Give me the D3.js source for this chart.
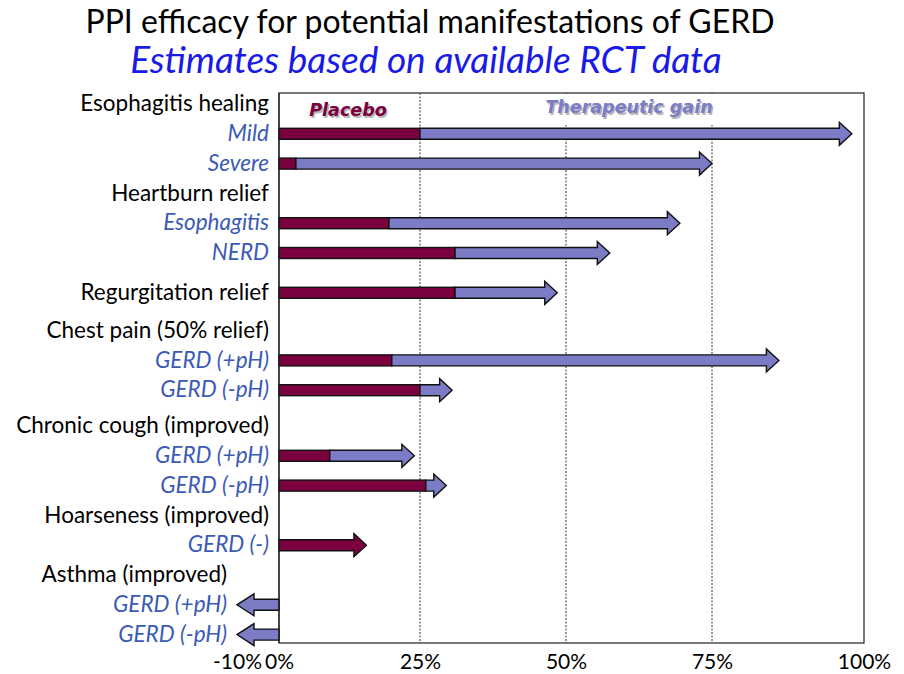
<!DOCTYPE html>
<html>
<head>
<meta charset="utf-8">
<script src="https://cdn.jsdelivr.net/npm/d3@7/dist/d3.min.js"></script>
<style>
  html, body { margin: 0; padding: 0; background: #fff; }
  svg { display: block; font-family: Lato, "Noto Sans", sans-serif; }
</style>
</head>
<body>
<svg id="chart" width="904" height="674"></svg>
<script>
// ---------------- data ----------------
const titleText = "PPI efficacy for potential manifestations of GERD";
const subtitleText = "Estimates based on available RCT data";
const seriesNames = ["Placebo", "Therapeutic gain"];
const rowLabels = [
  "Esophagitis healing", "Mild", "Severe",
  "Heartburn relief", "Esophagitis", "NERD",
  "Regurgitation relief",
  "Chest pain (50% relief)", "GERD (+pH)", "GERD (-pH)",
  "Chronic cough (improved)", "GERD (+pH)", "GERD (-pH)",
  "Hoarseness (improved)", "GERD (-)",
  "Asthma (improved)", "GERD (+pH)", "GERD (-pH)"
];
const rowKinds = [
  "group", "sub", "sub",
  "group", "sub", "sub",
  "group",
  "group", "sub", "sub",
  "group", "sub", "sub",
  "group", "sub",
  "group", "sub", "sub"
];
// placebo response (%) and therapeutic gain (%) per row; null = no bar
const placeboValues = [null, 25, 3, null, 19.5, 31, 31, null, 20, 25, null, 9, 26, null, 15.5, null, 0, 0];
const gainValues    = [null, 73, 72, null, 50, 26.5, 17.5, null, 66, 5.5, null, 15, 3.5, null, 0, null, -10, -10];
const tickValues = [-10, 0, 25, 50, 75, 100];
const tickLabels = ["-10%", "0%", "25%", "50%", "75%", "100%"];
const gridValues = [25, 50, 75];

// ---------------- layout / style ----------------
const colPlacebo = "#7a003e";
const colGain = "#7b7bc6";
const colSub = "#3b5bb5";
const frameTop = 93, frameBottom = 643;
const rowStart = 103, rowStep = 29.8;
const extraGap = [0,0,0,0,0,0,10,8,0,0,6,0,0,0,0,0,0,0];
const mainFont = "Lato, 'Noto Sans', sans-serif";
const legendFont = "'DejaVu Sans', Verdana, sans-serif";

const svg = d3.select("#chart");

// x scale (piecewise, as drawn in the original)
const x = d3.scaleLinear().domain(tickValues).range([237, 279, 420, 566, 712, 864]);

// y positions of rows
let acc = 0;
const rowY = rowLabels.map((d, i) => { acc += extraGap[i]; return rowStart + i * rowStep + acc; });

// groups: each group header starts a group; find min value per group
const groupId = [];
let g = -1;
rowKinds.forEach((k, i) => { if (k === "group") g++; groupId.push(g); });
const groupMin = {};
rowLabels.forEach((d, i) => {
  const v = gainValues[i] == null ? 0 : Math.min(0, gainValues[i]);
  groupMin[groupId[i]] = Math.min(groupMin[groupId[i]] ?? 0, v);
});

// title
svg.append("text").attr("x", 430).attr("y", 33).attr("text-anchor", "middle")
  .style("font-family", mainFont)
  .attr("font-size", 32).attr("fill", "#000").text(titleText);
svg.append("text").attr("x", 426).attr("y", 73).attr("text-anchor", "middle")
  .style("font-family", mainFont)
  .attr("font-size", 37).attr("font-style", "italic").attr("fill", "#1a1ae6").text(subtitleText);

// frame
svg.append("rect").attr("x", x(0)).attr("y", frameTop)
  .attr("width", x(100) - x(0)).attr("height", frameBottom - frameTop)
  .attr("fill", "none").attr("stroke", "#222").attr("stroke-width", 1.2);

// grid lines
svg.append("g").selectAll("line").data(gridValues).join("line")
  .attr("x1", d => x(d)).attr("x2", d => x(d))
  .attr("y1", frameTop).attr("y2", frameBottom)
  .attr("stroke", "#333").attr("stroke-width", 1).attr("stroke-dasharray", "2,1.5");

// series labels
function shadowText(txt, cx, cy, color) {
  const gg = svg.append("g");
  [[1.5, "#b8b8b8"], [0, color]].forEach(([off, c]) => {
    gg.append("text").attr("x", cx + off).attr("y", cy + off).attr("text-anchor", "middle")
      .style("font-family", legendFont)
      .style("font-size", "17.5px").style("font-weight", "bold").style("font-style", "italic")
      .attr("fill", c).text(txt);
  });
  return gg;
}
shadowText(seriesNames[0], 348, 116, colPlacebo);
// white box behind therapeutic gain label (covers grid lines as in original)
svg.append("rect").attr("x", 541).attr("y", frameTop + 1).attr("width", 178).attr("height", 31).attr("fill", "#fff");
shadowText(seriesNames[1], 629, 113, colGain);

// arrow path helper
function arrowPath(x0, x1, yc, bh, hh, hl) {
  const dir = x1 >= x0 ? 1 : -1;
  const xb = x1 - dir * hl;
  return `M${x0},${yc - bh}L${xb},${yc - bh}L${xb},${yc - hh}L${x1},${yc}L${xb},${yc + hh}L${xb},${yc + bh}L${x0},${yc + bh}Z`;
}

// bars
const barsG = svg.append("g");
const bh = 5.5, hh = 11.5;
rowLabels.forEach((lab, i) => {
  const p = placeboValues[i], gv = gainValues[i];
  if (p == null) return;
  const yc = rowY[i] + 1;
  if (gv > 0) {
    if (p > 0) {
      barsG.append("rect").attr("x", x(0)).attr("y", yc - bh)
        .attr("width", x(p) - x(0)).attr("height", 2 * bh)
        .attr("fill", colPlacebo).attr("stroke", "#111").attr("stroke-width", 1.4);
    }
    barsG.append("path").attr("d", arrowPath(x(p), x(p + gv), yc, bh, hh, 12.5))
      .attr("fill", colGain).attr("stroke", "#111").attr("stroke-width", 1.4)
      .attr("stroke-linejoin", "miter");
  } else if (gv === 0) {
    barsG.append("path").attr("d", arrowPath(x(0), x(p), yc, bh, hh, 12.5))
      .attr("fill", colPlacebo).attr("stroke", "#111").attr("stroke-width", 1.4);
  } else {
    barsG.append("path").attr("d", arrowPath(x(0), x(p + gv), yc, bh, hh - 0.5, 17))
      .attr("fill", colGain).attr("stroke", "#111").attr("stroke-width", 1.4);
  }
});
// redraw frame left edge on top
svg.append("line").attr("x1", x(0)).attr("x2", x(0)).attr("y1", frameTop).attr("y2", frameBottom)
  .attr("stroke", "#222").attr("stroke-width", 1.2);

// row labels
svg.append("g").selectAll("text").data(rowLabels).join("text")
  .attr("x", (d, i) => x(groupMin[groupId[i]]) - 10)
  .attr("y", (d, i) => rowY[i])
  .attr("dy", "0.36em")
  .attr("text-anchor", "end")
  .style("font-family", mainFont)
  .attr("font-size", 22.5)
  .attr("font-style", (d, i) => rowKinds[i] === "sub" ? "italic" : "normal")
  .attr("fill", (d, i) => rowKinds[i] === "sub" ? colSub : "#000")
  .text(d => d);

// x axis
const axis = d3.axisBottom(x).tickValues(tickValues)
  .tickFormat((d, i) => tickLabels[i]).tickSize(0).tickPadding(0);
const axG = svg.append("g").attr("transform", `translate(0, ${frameBottom + 11})`).call(axis);
axG.select(".domain").remove();
axG.selectAll("text").attr("font-size", 21).attr("fill", "#000")
  .attr("font-family", mainFont).style("font-family", mainFont).attr("dy", "0.71em");
</script>
</body>
</html>
